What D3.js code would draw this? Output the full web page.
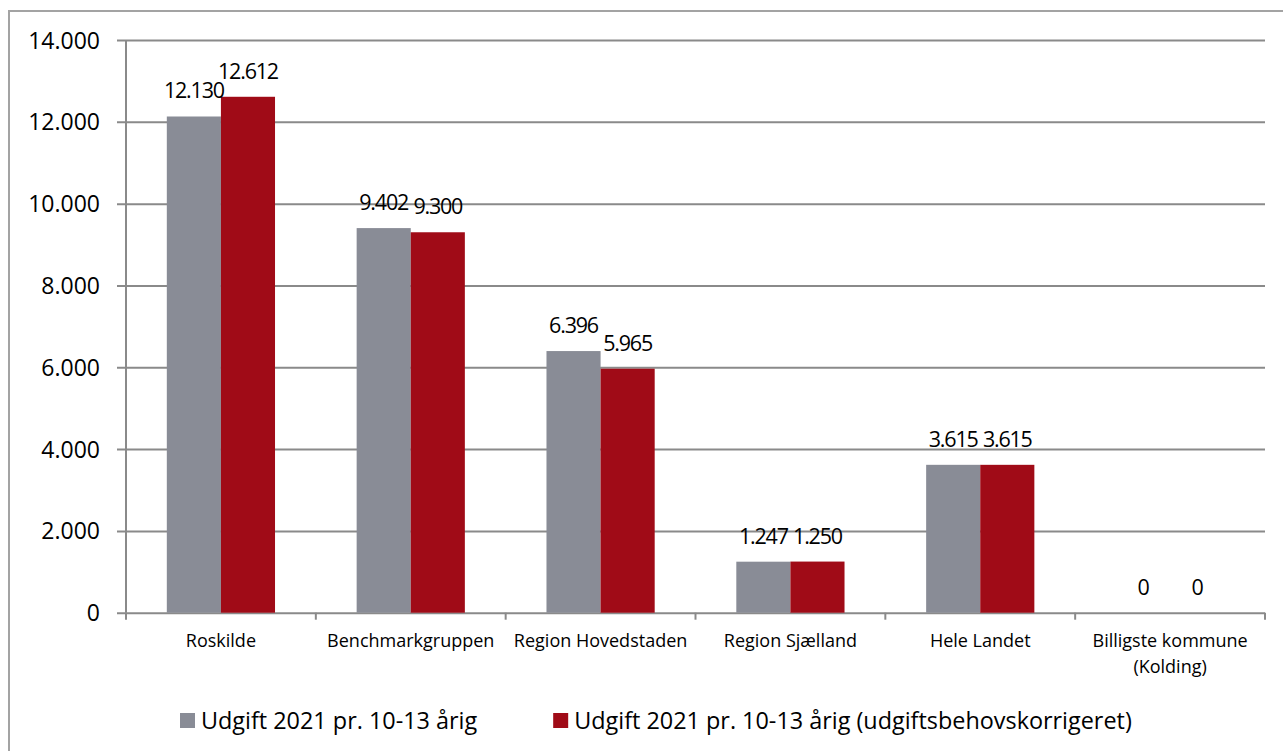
<!DOCTYPE html>
<html>
<head>
<meta charset="utf-8">
<script src="https://cdnjs.cloudflare.com/ajax/libs/d3/7.8.5/d3.min.js"></script>
<style>
  body { margin: 0; background: #fff; }
  text { font-family: 'Open Sans', sans-serif; fill: #000; }
</style>
</head>
<body>
<div id="chart"></div>
<script>
var categories = ['Roskilde', 'Benchmarkgruppen', 'Region Hovedstaden', 'Region Sjælland', 'Hele Landet', 'Billigste kommune\n(Kolding)'];
var seriesNames = ['Udgift 2021 pr. 10-13 årig', 'Udgift 2021 pr. 10-13 årig (udgiftsbehovskorrigeret)'];
var udgift = [12130, 9402, 6396, 1247, 3615, 0];
var udgiftKorrigeret = [12612, 9300, 5965, 1250, 3615, 0];
var yTicks = [0, 2000, 4000, 6000, 8000, 10000, 12000, 14000];
var colors = ['#898c96', '#a00b17'];

var width = 1283,
    height = 751,
    plotLeft = 126,
    plotRight = 1265,
    plotTop = 40,
    plotBottom = 612.7;

var da = d3.formatLocale({ decimal: ',', thousands: '.', grouping: [3], currency: ['', ' kr.'] });
var fmt = da.format(',d');

var svg = d3.select('#chart')
  .append('svg')
  .attr('width', width)
  .attr('height', height);

// outer frame (only top and left edges are inside the picture)
svg.append('rect')
  .attr('x', 9)
  .attr('y', 11)
  .attr('width', 1400)
  .attr('height', 900)
  .attr('fill', 'none')
  .attr('stroke', '#a3a3a3')
  .attr('stroke-width', 2);

var x0 = d3.scaleBand()
  .domain(categories)
  .range([plotLeft, plotRight])
  .paddingInner(0.43)
  .paddingOuter(0.215);

var x1 = d3.scaleBand()
  .domain([0, 1])
  .range([0, x0.bandwidth()]);

var y = d3.scaleLinear()
  .domain([0, 14000])
  .range([plotBottom, plotTop]);

// gridlines + y ticks
var yAxis = d3.axisLeft(y)
  .tickValues(yTicks)
  .tickSize(-(plotRight - plotLeft))
  .tickPadding(0)
  .tickFormat(function(d) { return fmt(d); });

var yAxisGroup = svg.append('g')
  .attr('transform', 'translate(' + plotLeft + ',0)')
  .call(yAxis);
yAxisGroup.select('.domain').remove();
yAxisGroup.selectAll('.tick line')
  .attr('x1', -9)
  .attr('stroke', '#8a8a8a')
  .attr('stroke-width', 2);
yAxisGroup.selectAll('.tick text')
  .attr('x', -26)
  .attr('dy', '0.35em')
  .style('font-size', '23px')
  .style('font-family', "'Open Sans', sans-serif");

// y axis line
svg.append('line')
  .attr('x1', plotLeft).attr('x2', plotLeft)
  .attr('y1', y(14000)).attr('y2', y(0))
  .attr('stroke', '#8a8a8a')
  .attr('stroke-width', 2);

// category boundary ticks
var boundaries = categories.map(function(c) { return x0(c) - x0.step() * x0.paddingOuter(); });
boundaries.push(plotRight);
svg.append('g').selectAll('line')
  .data(boundaries)
  .enter()
  .append('line')
  .attr('x1', function(d) { return d; })
  .attr('x2', function(d) { return d; })
  .attr('y1', plotBottom)
  .attr('y2', plotBottom + 7)
  .attr('stroke', '#8a8a8a')
  .attr('stroke-width', 2);

// bars
var rows = categories.map(function(c, i) {
  return { cat: c, values: [udgift[i], udgiftKorrigeret[i]] };
});

var groups = svg.append('g').selectAll('g')
  .data(rows)
  .enter()
  .append('g')
  .attr('transform', function(d) { return 'translate(' + x0(d.cat) + ',0)'; });

groups.selectAll('rect')
  .data(function(d) { return d.values; })
  .enter()
  .append('rect')
  .attr('x', function(d, i) { return x1(i); })
  .attr('y', function(d) { return y(d); })
  .attr('width', x1.bandwidth())
  .attr('height', function(d) { return y(0) - y(d); })
  .attr('fill', function(d, i) { return colors[i]; });

groups.selectAll('text.val')
  .data(function(d) { return d.values; })
  .enter()
  .append('text')
  .attr('class', 'val')
  .attr('x', function(d, i) { return x1(i) + x1.bandwidth() / 2; })
  .attr('y', function(d) { return y(d) - 18; })
  .attr('text-anchor', 'middle')
  .style('font-size', '21.5px')
  .style('letter-spacing', '-1.2px')
  .text(function(d) { return fmt(d); });

// category labels
var catLabels = svg.append('g').selectAll('text')
  .data(categories)
  .enter()
  .append('text')
  .attr('x', function(d) { return x0(d) + x0.bandwidth() / 2; })
  .attr('y', 647)
  .attr('text-anchor', 'middle')
  .style('font-size', '18px');

catLabels.each(function(d) {
  var lines = d.split('\n');
  var t = d3.select(this);
  lines.forEach(function(line, i) {
    t.append('tspan')
      .attr('x', t.attr('x'))
      .attr('dy', i === 0 ? 0 : 26)
      .text(line);
  });
});

// legend
var legend = svg.append('g');
var lx = 180;
seriesNames.forEach(function(name, i) {
  legend.append('rect')
    .attr('x', lx)
    .attr('y', 713)
    .attr('width', 15)
    .attr('height', 15)
    .attr('fill', colors[i]);
  var t = legend.append('text')
    .attr('x', lx + 21)
    .attr('y', 728.5)
    .style('font-size', '23.4px')
    .text(name);
  lx = lx + 21 + t.node().getComputedTextLength() + 76;
});
</script>
</body>
</html>
